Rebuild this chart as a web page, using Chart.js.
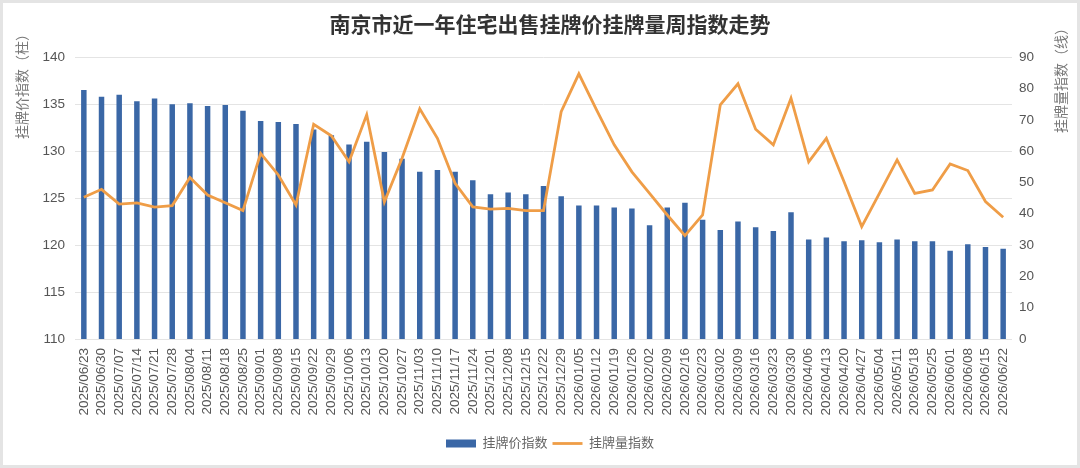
<!DOCTYPE html>
<html>
<head>
<meta charset="utf-8">
<title>南京市近一年住宅出售挂牌价挂牌量周指数走势</title>
<script src="https://cdn.jsdelivr.net/npm/chart.js"></script>
<style>
html, body { margin: 0; padding: 0; background: #fff; }
#wrap { width: 1080px; height: 468px; position: relative; }
</style>
</head>
<body>
<div id="wrap"><canvas id="chart1"></canvas></div>
<script>
// weekly data
var weeks = [
  '2025/06/23','2025/06/30','2025/07/07','2025/07/14','2025/07/21','2025/07/28','2025/08/04','2025/08/11',
  '2025/08/18','2025/08/25','2025/09/01','2025/09/08','2025/09/15','2025/09/22','2025/09/29','2025/10/06',
  '2025/10/13','2025/10/20','2025/10/27','2025/11/03','2025/11/10','2025/11/17','2025/11/24','2025/12/01',
  '2025/12/08','2025/12/15','2025/12/22','2025/12/29','2026/01/05','2026/01/12','2026/01/19','2026/01/26',
  '2026/02/02','2026/02/09','2026/02/16','2026/02/23','2026/03/02','2026/03/09','2026/03/16','2026/03/23',
  '2026/03/30','2026/04/06','2026/04/13','2026/04/20','2026/04/27','2026/05/04','2026/05/11','2026/05/18',
  '2026/05/25','2026/06/01','2026/06/08','2026/06/15','2026/06/22'
];
// 挂牌价指数 (bars, left axis)
var priceIndex = [
  136.5, 135.8, 136.0, 135.3, 135.6, 135.0, 135.1, 134.8, 134.9, 134.3,
  133.2, 133.1, 132.9, 132.3, 131.7, 130.7, 131.0, 129.9, 129.2, 127.8,
  128.0, 127.8, 126.9, 125.4, 125.6, 125.4, 126.3, 125.2, 124.2, 124.2,
  124.0, 123.9, 122.1, 124.0, 124.5, 122.7, 121.6, 122.5, 121.9, 121.5,
  123.5, 120.6, 120.8, 120.4, 120.5, 120.3, 120.6, 120.4, 120.4, 119.4,
  120.1, 119.8, 119.6
];
// 挂牌量指数 (line, right axis)
var listingIndex = [
  45.3, 47.8, 43.1, 43.5, 42.1, 42.6, 51.6, 46.0, 43.5, 41.0,
  59.3, 52.4, 42.8, 68.6, 64.9, 56.6, 71.6, 43.8, 57.7, 73.5,
  64.1, 49.7, 42.2, 41.5, 41.7, 41.0, 41.0, 72.6, 84.7, 73.2,
  62.0, 53.4, 46.5, 39.6, 33.0, 39.6, 74.8, 81.5, 67.0, 62.0,
  76.9, 56.6, 64.1, 50.2, 35.9, 46.5, 57.2, 46.5, 47.6, 55.9,
  53.8, 43.9, 38.9
];
var leftTicks = [110, 115, 120, 125, 130, 135, 140];
var rightTicks = [0, 10, 20, 30, 40, 50, 60, 70, 80, 90];

var FONT = "'Liberation Sans', 'Noto Sans CJK SC', sans-serif";

// axis titles sit near the top of each side, both reading bottom-to-top
var axisTitles = {
  id: 'axisTitles',
  beforeDraw: function (chart) {
    var ctx = chart.ctx;
    ctx.save();
    ctx.fillStyle = '#fff';
    ctx.fillRect(0, 0, chart.width, chart.height);
    ctx.strokeStyle = '#e4e4e4';
    ctx.lineWidth = 3;
    ctx.strokeRect(1.5, 1.5, chart.width - 3, chart.height - 3);
    ctx.restore();
  },
  afterDraw: function (chart) {
    var ctx = chart.ctx;
    ctx.save();
    ctx.fillStyle = '#777';
    ctx.font = '14px ' + FONT;
    ctx.textAlign = 'center';
    ctx.textBaseline = 'middle';
    ctx.translate(23, 83);
    ctx.rotate(-Math.PI / 2);
    ctx.fillText('挂牌价指数（柱）', 0, 0);
    ctx.restore();
    ctx.save();
    ctx.fillStyle = '#777';
    ctx.font = '14px ' + FONT;
    ctx.textAlign = 'center';
    ctx.textBaseline = 'middle';
    ctx.translate(1062, 77);
    ctx.rotate(-Math.PI / 2);
    ctx.fillText('挂牌量指数（线）', 0, 0);
    ctx.restore();
  }
};

var ch1 = document.getElementById('chart1').getContext('2d');
var chart1 = new Chart(ch1, {
  type: 'bar',
  data: {
    labels: weeks,
    datasets: [
      {
        type: 'bar',
        label: '挂牌价指数',
        data: priceIndex,
        backgroundColor: '#3a67a6',
        borderWidth: 0,
        pointStyle: 'rect',
        yAxisID: 'y',
        order: 2,
        categoryPercentage: 1,
        barPercentage: 0.31
      },
      {
        type: 'line',
        label: '挂牌量指数',
        data: listingIndex,
        borderColor: '#ef9d47',
        backgroundColor: '#ef9d47',
        borderWidth: 2.8,
        pointRadius: 0,
        pointStyle: 'line',
        tension: 0,
        yAxisID: 'y1',
        order: 1
      }
    ]
  },
  options: {
    responsive: true,
    maintainAspectRatio: false,
    animation: false,
    layout: { padding: { left: 33, right: 13, top: 0, bottom: 8 } },
    plugins: {
      title: {
        display: true,
        text: '南京市近一年住宅出售挂牌价挂牌量周指数走势',
        color: '#333',
        font: { family: FONT, size: 21, weight: 'bold' },
        padding: { top: 14, bottom: 18 }
      },
      legend: {
        position: 'bottom',
        labels: {
          usePointStyle: true,
          pointStyleWidth: 30,
          boxHeight: 8,
          padding: 5,
          color: '#666',
          font: { family: FONT, size: 13 },
          sort: function (a, b) { return a.datasetIndex - b.datasetIndex; }
        }
      },
      tooltip: { enabled: false }
    },
    scales: {
      x: {
        grid: { display: false, drawTicks: false },
        border: { display: false },
        ticks: {
          autoSkip: false,
          minRotation: 90,
          maxRotation: 90,
          padding: 9,
          color: '#555',
          font: { family: FONT, size: 13.5 }
        },
        afterFit: function (scale) { scale.height = 93; }
      },
      y: {
        type: 'linear',
        position: 'left',
        min: leftTicks[0],
        max: leftTicks[leftTicks.length - 1],
        grid: { color: '#e4e4e4', drawTicks: false },
        border: { display: false },
        ticks: {
          stepSize: leftTicks[1] - leftTicks[0],
          padding: 10,
          color: '#555',
          font: { family: FONT, size: 13.5 }
        },
        afterFit: function (scale) { scale.width = 42; }
      },
      y1: {
        type: 'linear',
        position: 'right',
        min: rightTicks[0],
        max: rightTicks[rightTicks.length - 1],
        grid: { display: false, drawTicks: false },
        border: { display: false },
        ticks: {
          stepSize: rightTicks[1] - rightTicks[0],
          padding: 7,
          color: '#555',
          font: { family: FONT, size: 13.5 }
        },
        afterFit: function (scale) { scale.width = 55; }
      }
    }
  },
  plugins: [axisTitles]
});
</script>
</body>
</html>
